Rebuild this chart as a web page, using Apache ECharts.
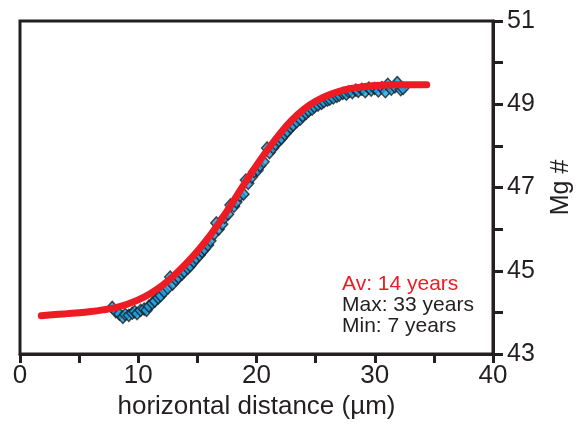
<!DOCTYPE html>
<html>
<head>
<meta charset="utf-8">
<script src="https://cdn.jsdelivr.net/npm/echarts@6/dist/echarts.min.js"></script>
<style>html,body{margin:0;padding:0;background:#fff;}#c{width:580px;height:427px;}</style>
</head>
<body>
<div id="c"></div>
<script>
// Fitted diffusion model curve (x in µm, Mg#)
const fitX = [1.8,3,4,5,6,7,8,9,10,11,12,13,14,15,16,17,18,19,20,21,22,23,24,25,26,27,28,29,30,31,32,33,34.4];
const fitY = [43.92,43.95,43.97,43.99,44.02,44.06,44.11,44.19,44.30,44.45,44.64,44.88,45.16,45.47,45.82,46.22,46.65,47.10,47.53,47.93,48.30,48.62,48.88,49.07,49.21,49.31,49.38,49.42,49.45,49.46,49.47,49.47,49.47];

// Measured profile points
const measX = [7.8,8.1,8.4,8.7,8.9,9.2,9.5,9.7,9.9,10.2,10.5,10.7,10.9,11.2,11.4,11.7,11.9,12.2,12.5,12.7,12.9,13.2,13.4,13.7,13.9,14.2,14.4,14.7,14.9,15.2,15.4,15.6,15.9,16.1,16.4,16.6,16.8,17.1,17.3,17.6,17.8,18.1,18.3,18.6,18.9,19.1,19.3,19.6,19.8,20.1,20.3,20.6,20.9,21.1,21.4,21.6,21.9,22.1,22.4,22.6,22.9,23.1,23.4,23.7,23.9,24.2,24.4,24.7,24.9,25.2,25.5,25.7,26.0,26.2,26.5,26.8,27.0,27.3,27.6,27.8,28.1,28.4,28.6,28.9,29.2,29.5,29.7,30.0,30.3,30.6,30.9,31.1,31.4,31.7,31.9,32.2,32.4];
const measY = [44.12,44.02,43.96,43.88,43.95,43.93,43.98,44.02,43.97,44.05,44.08,44.05,44.15,44.22,44.27,44.35,44.40,44.50,44.58,44.85,44.68,44.78,44.84,44.92,44.98,45.06,45.12,45.22,45.30,45.38,45.46,45.52,45.62,45.72,45.88,46.15,46.00,46.12,46.28,46.36,46.58,46.55,46.65,46.80,46.84,47.18,47.10,47.25,47.38,47.42,47.52,47.62,47.95,47.84,47.95,48.04,48.12,48.18,48.28,48.35,48.44,48.50,48.58,48.64,48.72,48.78,48.84,48.88,48.94,48.98,49.02,49.06,49.10,49.12,49.15,49.19,49.22,49.26,49.24,49.30,49.28,49.34,49.31,49.36,49.30,49.39,49.34,49.38,49.32,49.40,49.30,49.48,49.36,49.42,49.52,49.35,49.38];

const annotations = ['Av: 14 years', 'Max: 33 years', 'Min: 7 years'];
const xTitle = 'horizontal distance (µm)';
const yTitle = 'Mg #';

const ink = '#231F20';
const font = '"Liberation Sans", Arial, Helvetica, sans-serif';

const chart = echarts.init(document.getElementById('c'), null, {renderer: 'canvas'});
chart.setOption({
  animation: false,
  backgroundColor: '#fff',
  grid: {left: 20, right: 87, top: 21, bottom: 73, show: true, borderColor: ink, borderWidth: 3, containLabel: false, outerBoundsMode: 'none'},
  xAxis: {
    type: 'value', min: 0, max: 40, interval: 5,
    name: xTitle, nameLocation: 'middle', nameGap: 37,
    nameTextStyle: {fontSize: 26, color: ink, fontFamily: font},
    axisLine: {show: true, onZero: false, lineStyle: {color: ink, width: 3}},
    axisTick: {show: true, inside: false, length: 9, lineStyle: {color: ink, width: 3}},
    axisLabel: {show: true, margin: 9, fontSize: 26, color: ink, fontFamily: font,
      formatter: v => (v % 10 === 0 ? String(v) : '')},
    splitLine: {show: false}
  },
  yAxis: {
    type: 'value', min: 43, max: 51, interval: 1, position: 'right',
    name: yTitle, nameLocation: 'middle', nameGap: 56, nameRotate: 90,
    nameTextStyle: {fontSize: 25, color: ink, fontFamily: font},
    axisLine: {show: true, onZero: false, lineStyle: {color: ink, width: 3}},
    axisTick: {show: true, inside: false, length: 10, lineStyle: {color: ink, width: 3}},
    axisLabel: {show: true, margin: 14, fontSize: 25, color: ink, fontFamily: font,
      formatter: v => (v % 2 === 1 ? String(v) : '')},
    splitLine: {show: false}
  },
  series: [
    {
      type: 'scatter', name: 'measured',
      data: measX.map((x, i) => [x, measY[i]]),
      symbol: 'diamond', symbolSize: [11, 12],
      itemStyle: {color: '#1AA0DE', borderColor: '#1a1f28', borderWidth: 1.5},
      z: 2
    },
    {
      type: 'line', name: 'model',
      data: fitX.map((x, i) => [x, fitY[i]]),
      smooth: 0.4, symbol: 'none',
      lineStyle: {color: '#ED1C24', width: 7, cap: 'round'},
      z: 3
    }
  ],
  graphic: annotations.map((t, i) => ({
    type: 'text', x: 342, y: 284 + i * 21,
    style: {text: t, fontSize: 21, fontFamily: font, fill: i === 0 ? '#ED1C24' : ink, verticalAlign: 'middle', align: 'left'},
    z: 10
  }))
});
</script>
</body>
</html>
